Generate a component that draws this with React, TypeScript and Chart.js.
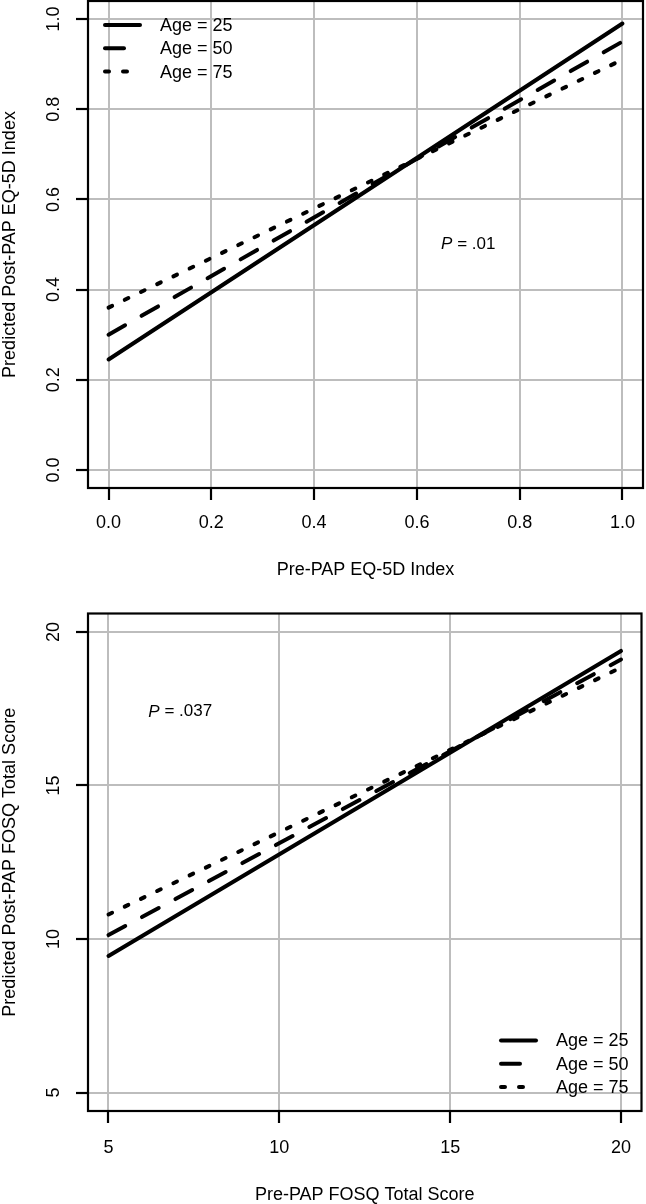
import React, { useEffect, useRef } from "react";
import { Chart, registerables } from "chart.js";

Chart.register(...registerables);

// ---------- Data ----------
const ageLabels = ["Age = 25", "Age = 50", "Age = 75"];

// Top panel: EQ-5D index
const eqX = [0, 1];
const eqAge25 = [0.245, 0.99];
const eqAge50 = [0.3, 0.95];
const eqAge75 = [0.36, 0.91];
const eqTicks = [0, 0.2, 0.4, 0.6, 0.8, 1.0];
const eqXTitle = "Pre-PAP EQ-5D Index";
const eqYTitle = "Predicted Post-PAP EQ-5D Index";
const eqP = ".01";
const eqPPos = [0.7, 0.5];

// Bottom panel: FOSQ total score
const fosqX = [5, 20];
const fosqAge25 = [9.45, 19.38];
const fosqAge50 = [10.13, 19.1];
const fosqAge75 = [10.8, 18.84];
const fosqTicks = [5, 10, 15, 20];
const fosqXTitle = "Pre-PAP FOSQ Total Score";
const fosqYTitle = "Predicted Post-PAP FOSQ Total Score";
const fosqP = ".037";
const fosqPPos = [7.1, 17.4];

// ---------- Styling ----------
const FONT = "'Liberation Sans', Arial, Helvetica, sans-serif";
const GRID = "#bdbdbd";
const dashStyles = [[], [19, 19], [4, 14]];

const boxPlugin = {
  id: "rBox",
  afterDatasetsDraw(chart: any) {
    const { ctx, chartArea: a } = chart;
    ctx.save();
    ctx.strokeStyle = "#000";
    ctx.lineWidth = 2.2;
    ctx.strokeRect(a.left, a.top, a.right - a.left, a.bottom - a.top);
    ctx.restore();
  },
};

const ageLegendPlugin = {
  id: "ageLegend",
  afterDatasetsDraw(chart: any, _args: any, opts: any) {
    const { ctx, chartArea: a } = chart;
    const ds = chart.data.datasets;
    const n = ds.length;
    const gap = 23.3;
    ctx.save();
    ds.forEach((d: any, i: number) => {
      let x0: number, y: number;
      if (opts.corner === "topleft") {
        x0 = a.left + 17;
        y = a.top + 24 + i * gap;
      } else {
        x0 = a.right - 140.5;
        y = a.bottom - 24 - (n - 1 - i) * gap;
      }
      ctx.strokeStyle = "#000";
      ctx.lineWidth = d.borderWidth;
      ctx.lineCap = "round";
      ctx.setLineDash(d.borderDash || []);
      ctx.beginPath();
      ctx.moveTo(x0, y);
      ctx.lineTo(x0 + 35, y);
      ctx.stroke();
      ctx.setLineDash([]);
      ctx.fillStyle = "#000";
      ctx.font = `18px ${FONT}`;
      ctx.textAlign = "left";
      ctx.textBaseline = "middle";
      ctx.fillText(d.label, x0 + 55, y + 1);
    });
    ctx.restore();
  },
};

const pLabelPlugin = {
  id: "pLabel",
  afterDatasetsDraw(chart: any, _args: any, opts: any) {
    const { ctx } = chart;
    const x = chart.scales.x.getPixelForValue(opts.pos[0]);
    const y = chart.scales.y.getPixelForValue(opts.pos[1]);
    ctx.save();
    ctx.fillStyle = "#000";
    ctx.textBaseline = "middle";
    ctx.textAlign = "left";
    const italic = `italic 17px ${FONT}`;
    const normal = `17px ${FONT}`;
    ctx.font = italic;
    const wP = ctx.measureText("P").width;
    ctx.font = normal;
    const rest = " = " + opts.value;
    const wR = ctx.measureText(rest).width;
    const start = x - (wP + wR) / 2;
    ctx.font = italic;
    ctx.fillText("P", start, y);
    ctx.font = normal;
    ctx.fillText(rest, start + wP, y);
    ctx.restore();
  },
};

function makeConfig(p: any) {
  const series = [p.s25, p.s50, p.s75];
  return {
    type: "line",
    data: {
      datasets: series.map((s: number[], i: number) => ({
        label: ageLabels[i],
        data: p.xs.map((x: number, j: number) => ({ x, y: s[j] })),
        borderColor: "#000",
        borderWidth: 4,
        borderDash: dashStyles[i],
        borderCapStyle: "round",
        pointRadius: 0,
        fill: false,
        tension: 0,
      })),
    },
    options: {
      responsive: false,
      animation: false,
      devicePixelRatio: 1,
      layout: { padding: { top: p.padTop, right: p.padRight, left: 0, bottom: 0 } },
      plugins: {
        legend: { display: false },
        tooltip: { enabled: false },
        ageLegend: { corner: p.corner },
        pLabel: { pos: p.pPos, value: p.pValue },
      },
      scales: {
        x: {
          type: "linear",
          min: p.min,
          max: p.max,
          afterBuildTicks: (s: any) => {
            s.ticks = p.ticks.map((v: number) => ({ value: v }));
          },
          afterFit: (s: any) => {
            s.height = p.xAxisHeight;
            s.paddingLeft = 0;
            s.paddingRight = 0;
          },
          border: { display: false },
          grid: { color: GRID, lineWidth: 2, tickColor: "#000", tickWidth: 2.2, tickLength: 12, drawTicks: true },
          ticks: {
            autoSkip: false,
            maxRotation: 0,
            minRotation: 0,
            padding: p.xTickPad,
            color: "#000",
            font: { family: FONT, size: 18, lineHeight: 1.2 },
            callback: p.fmt,
          },
          title: {
            display: true,
            text: p.xTitle,
            color: "#000",
            font: { family: FONT, size: 18, lineHeight: 1 },
            padding: { top: 0, bottom: p.xTitlePad },
          },
        },
        y: {
          type: "linear",
          min: p.min,
          max: p.max,
          afterBuildTicks: (s: any) => {
            s.ticks = p.ticks.map((v: number) => ({ value: v }));
          },
          afterFit: (s: any) => {
            s.width = 88;
            s.paddingTop = 0;
            s.paddingBottom = 0;
          },
          border: { display: false },
          grid: { color: GRID, lineWidth: 2, tickColor: "#000", tickWidth: 2.2, tickLength: 12, drawTicks: true },
          ticks: {
            autoSkip: false,
            minRotation: 90,
            maxRotation: 90,
            crossAlign: "center",
            padding: p.yTickPad,
            color: "#000",
            font: { family: FONT, size: 18, lineHeight: 1.2 },
            callback: p.fmt,
          },
          title: {
            display: true,
            text: p.yTitle,
            color: "#000",
            font: { family: FONT, size: 18, lineHeight: 1 },
            padding: { top: 1, bottom: 0 },
          },
        },
      },
    },
    plugins: [boxPlugin, ageLegendPlugin, pLabelPlugin],
  };
}

function Panel(props: { cfg: any; top: number }) {
  const ref = useRef<HTMLCanvasElement | null>(null);
  useEffect(() => {
    if (!ref.current) return;
    const chart = new Chart(ref.current, props.cfg as any);
    return () => chart.destroy();
  }, []);
  return (
    <canvas
      ref={ref}
      width={646}
      height={602}
      style={{ position: "absolute", left: 0, top: props.top, width: 646, height: 602 }}
    />
  );
}

export default function App() {
  const topCfg = makeConfig({
    xs: eqX,
    s25: eqAge25,
    s50: eqAge50,
    s75: eqAge75,
    ticks: eqTicks,
    min: -0.04,
    max: 1.04,
    fmt: (v: any) => Number(v).toFixed(1),
    xTitle: eqXTitle,
    yTitle: eqYTitle,
    padTop: 1,
    padRight: 3,
    xAxisHeight: 114,
    xTickPad: 12,
    xTitlePad: 23,
    yTickPad: 9.5,
    corner: "topleft",
    pPos: eqPPos,
    pValue: eqP,
  });
  const bottomCfg = makeConfig({
    xs: fosqX,
    s25: fosqAge25,
    s50: fosqAge50,
    s75: fosqAge75,
    ticks: fosqTicks,
    min: 4.4,
    max: 20.6,
    fmt: (v: any) => String(Math.round(Number(v))),
    xTitle: fosqXTitle,
    yTitle: fosqYTitle,
    padTop: 11.5,
    padRight: 4.5,
    xAxisHeight: 93,
    xTickPad: 14,
    xTitlePad: 0,
    yTickPad: 12,
    corner: "bottomright",
    pPos: fosqPPos,
    pValue: fosqP,
  });
  return (
    <div style={{ position: "absolute", left: 0, top: 0, width: 646, height: 1204, background: "#fff" }}>
      <Panel cfg={topCfg} top={0} />
      <Panel cfg={bottomCfg} top={602} />
    </div>
  );
}
